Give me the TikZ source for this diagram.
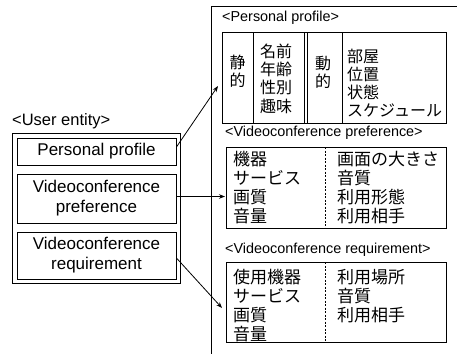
\documentclass[tikz,border=0pt]{standalone}
\usepackage{fontspec}
\setmainfont{Liberation Sans}
\newfontfamily\cjk{Noto Sans CJK JP}
\usetikzlibrary{arrows.meta}
\begin{document}
\begin{tikzpicture}[x=1pt,y=-1pt,
  line/.style={draw=black,line width=0.9pt},
  lbl/.style={anchor=west,inner sep=0pt,font=\fontsize{14.4}{16}\selectfont},
  ent/.style={align=center,inner sep=0pt,font=\fontsize{17}{20}\selectfont},
  jp/.style={anchor=west,inner sep=0pt,font=\cjk\fontsize{16}{18.5}\selectfont},
  jpb/.style={anchor=west,inner sep=0pt,font=\cjk\fontsize{17}{19}\selectfont},
  jpc/.style={anchor=center,inner sep=0pt,align=center,font=\cjk\fontsize{16}{17}\selectfont},
  arr/.style={draw=black,line width=0.8pt,-{Stealth[length=6pt,width=4.5pt]}}]
\useasboundingbox (0,0) rectangle (457,354);
\fill[white] (0,0) rectangle (457,354);

% right outer frame
\draw[line] (457,6) -- (211,6) -- (211,354);

% personal profile
\node[lbl] (lpp) at (222,18) {<Personal profile>};
\draw[line] (222,32) rectangle (446,123);
\draw[line] (253,32) -- (253,123);
\draw[line] (304,32) -- (304,123);
\draw[line] (307,32) -- (307,123);
\draw[line] (342,32) -- (342,123);
\node[jpc] (sei) at (237.5,71) {静\\[1pt]的};
\node[jp] (n1) at (260,51) {名前};
\node[jp] (n2) at (260,69) {年齢};
\node[jp] (n3) at (260,87.5) {性別};
\node[jp] (n4) at (260,106) {趣味};
\node[jpc] (dou) at (323,72) {動\\[1pt]的};
\node[jp] (m1) at (347,56) {部屋};
\node[jp] (m2) at (347,74) {位置};
\node[jp] (m3) at (347,92) {状態};
\node[jp] (m4) at (347,110) {スケジュール};

% videoconference preference
\node[lbl] (lvp) at (225,133) {<Videoconference preference>};
\draw[line] (226,147) rectangle (446,228);
\draw[line,dash pattern=on 2pt off 1.5pt,line width=0.7pt] (325,147) -- (325,228);
\node[jpb] (p1) at (233,159) {機器};
\node[jpb] (p2) at (233,178) {サービス};
\node[jpb] (p3) at (233,197) {画質};
\node[jpb] (p4) at (233,216) {音量};
\node[jpb] (q1) at (337,159) {画面の大きさ};
\node[jpb] (q2) at (337,178) {音質};
\node[jpb] (q3) at (337,197) {利用形態};
\node[jpb] (q4) at (337,216) {利用相手};

% videoconference requirement
\node[lbl] (lvr) at (225,250) {<Videoconference requirement>};
\draw[line] (226,262) rectangle (446,342);
\draw[line,dash pattern=on 2pt off 1.5pt,line width=0.7pt] (325,262) -- (325,342);
\node[jpb] (r1) at (233,277) {使用機器};
\node[jpb] (r2) at (233,296) {サービス};
\node[jpb] (r3) at (233,315) {画質};
\node[jpb] (r4) at (233,334) {音量};
\node[jpb] (s1) at (337,277) {利用場所};
\node[jpb] (s2) at (337,296) {音質};
\node[jpb] (s3) at (337,315) {利用相手};

% user entity
\node[anchor=west,inner sep=0pt,font=\fontsize{16.5}{18}\selectfont] (lue) at (12,121) {<User entity>};
\draw[line] (12,133) rectangle (180,283);
\node[line,ent,minimum width=159pt,minimum height=27pt] (pp) at (96.5,151.5) {Personal profile};
\node[line,ent,minimum width=159pt,minimum height=49pt] (vp) at (96.5,198.5) {Videoconference\\preference};
\node[line,ent,minimum width=159pt,minimum height=47pt] (vr) at (96.5,255.5) {Videoconference\\requirement};

% arrows
\coordinate (a1) at (218,86);
\coordinate (a2) at (225,196.5);
\coordinate (a3) at (222,308);
\draw[arr] (pp.east |- 0,147) -- (a1);
\draw[arr] (vp.east |- 0,196.5) -- (a2);
\draw[arr] (vr.east |- 0,258) -- (a3);
\end{tikzpicture}
\end{document}
